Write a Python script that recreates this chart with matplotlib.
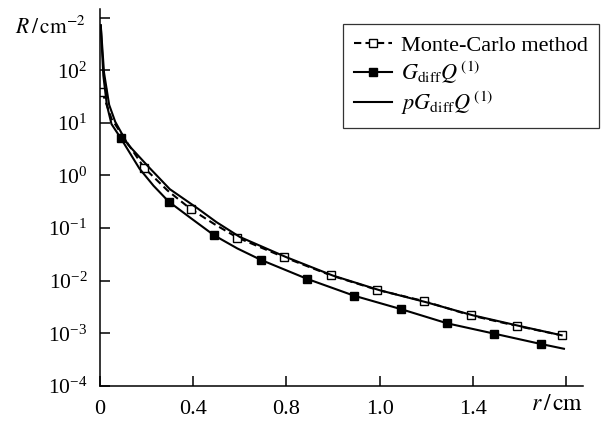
import numpy as np
import matplotlib
matplotlib.use('Agg')
import matplotlib.pyplot as plt
from matplotlib.ticker import LogFormatterMathtext, NullLocator

plt.rcParams['font.family'] = ['Liberation Serif', 'DejaVu Serif']
plt.rcParams['mathtext.fontset'] = 'stix'

# Monte-Carlo points (open squares) and the dashed curve
mc_r = [0.01, 0.19, 0.39, 0.59, 0.79, 0.99, 1.19, 1.39, 1.59, 1.79, 1.98]
mc_R = [39, 1.4, 0.23, 0.066, 0.028, 0.0127, 0.0067, 0.0041, 0.0022, 0.00138, 0.00092]
mc_line_r = [0.01, 0.05, 0.1, 0.19, 0.29, 0.39, 0.49, 0.59, 0.79, 0.99, 1.19, 1.39, 1.59, 1.79, 1.98]
mc_line_R = [39, 12, 5.5, 1.4, 0.52, 0.23, 0.12, 0.066, 0.028, 0.0127, 0.0067, 0.0041, 0.0022,
             0.00138, 0.00092]

# G_diff Q(1): markers and the curve through them
g_r = [0.09, 0.295, 0.49, 0.69, 0.89, 1.09, 1.29, 1.49, 1.69, 1.89]
g_R = [5.1, 0.32, 0.073, 0.025, 0.0108, 0.0052, 0.0029, 0.00155, 0.00099, 0.00063]
g_line_r = [0.004, 0.015, 0.03, 0.05, 0.09, 0.17, 0.23, 0.295, 0.39, 0.49, 0.59, 0.69, 0.89, 1.09,
            1.29, 1.49, 1.69, 1.89, 1.99]
g_line_R = [700, 80, 22, 9.5, 5.1, 1.35, 0.64, 0.32, 0.155, 0.073, 0.041, 0.025, 0.0108, 0.0052,
            0.0029, 0.00155, 0.00099, 0.00063, 0.00051]

# p G_diff Q(1): plain solid curve
pg_r = [0.004, 0.018, 0.04, 0.066, 0.12, 0.214, 0.3, 0.421, 0.5, 0.6, 0.8, 1.0, 1.2, 1.4, 1.6, 1.8,
        1.98]
pg_R = [720, 90, 22, 10.5, 3.9, 1.38, 0.55, 0.234, 0.13, 0.068, 0.028, 0.0125, 0.0066, 0.0039,
        0.0022, 0.00138, 0.00092]

xticks = [0, 0.4, 0.8, 1.2, 1.6, 2.0]
xticklabels = ['0', '0.4', '0.8', '1.0', '1.4', '']
yticks = [1e-4, 1e-3, 1e-2, 1e-1, 1e0, 1e1, 1e2, 1e3]

fig = plt.figure(figsize=(6.05, 4.24), dpi=100)
ax = fig.add_axes([0.165, 0.0896, 0.798, 0.89])

ax.plot(mc_line_r, mc_line_R, color='k', lw=1.5, dashes=(3.5, 2))
ax.plot(mc_r, mc_R, ls='none', marker='s', ms=5.5, mfc='white', mec='k', mew=1.0)
ax.plot(g_line_r, g_line_R, color='k', lw=1.5)
ax.plot(g_r, g_R, ls='none', marker='s', ms=5.5, mfc='k', mec='k')
ax.plot(pg_r, pg_R, color='k', lw=1.5)

# legend proxies
h1, = ax.plot([], [], color='k', lw=1.5, dashes=(3.5, 2), marker='s', ms=5.5,
              mfc='white', mec='k', mew=1.0)
h2, = ax.plot([], [], color='k', lw=1.5, marker='s', ms=5.5, mfc='k', mec='k')
h3, = ax.plot([], [], color='k', lw=1.5)

ax.set_yscale('log')
ax.set_xlim(0, 2.07)
ax.set_ylim(1e-4, 10 ** 3.17)
ax.set_xticks(xticks)
ax.set_xticklabels(xticklabels)
ax.set_yticks(yticks)
ax.yaxis.set_major_formatter(LogFormatterMathtext())
ax.yaxis.set_minor_locator(NullLocator())
labels = [l.get_text() for l in ax.get_yticklabels()]
ax.set_yticklabels(labels[:-1] + [''])

for s in ['top', 'right']:
    ax.spines[s].set_visible(False)
for s in ['left', 'bottom']:
    ax.spines[s].set_linewidth(1.1)
ax.tick_params(direction='in', length=7, width=1.1, labelsize=16, pad=10)
ax.tick_params(axis='y', labelsize=15.5, pad=9)

fig.text(0.025, 0.935, r'$R\,/\,\mathrm{cm}^{-2}$', fontsize=15.5, ha='left', va='center')
fig.text(0.92, 0.045, r'$r\,/\,\mathrm{cm}$', fontsize=17, ha='center', va='center')

leg = fig.legend([h1, h2, h3],
                 ['Monte-Carlo method', r'$G_{\mathrm{diff}}Q^{\,(1)}$', r'$pG_{\mathrm{diff}}Q^{\,(1)}$'],
                 loc='upper right', bbox_to_anchor=(0.99, 0.943), borderaxespad=0,
                 fontsize=16, frameon=True, fancybox=False, handlelength=1.7,
                 handletextpad=0.4, labelspacing=0.15, borderpad=0.5)
leg.get_frame().set_edgecolor('k')
leg.get_frame().set_linewidth(0.9)

fig.savefig('out.png', dpi=100)
